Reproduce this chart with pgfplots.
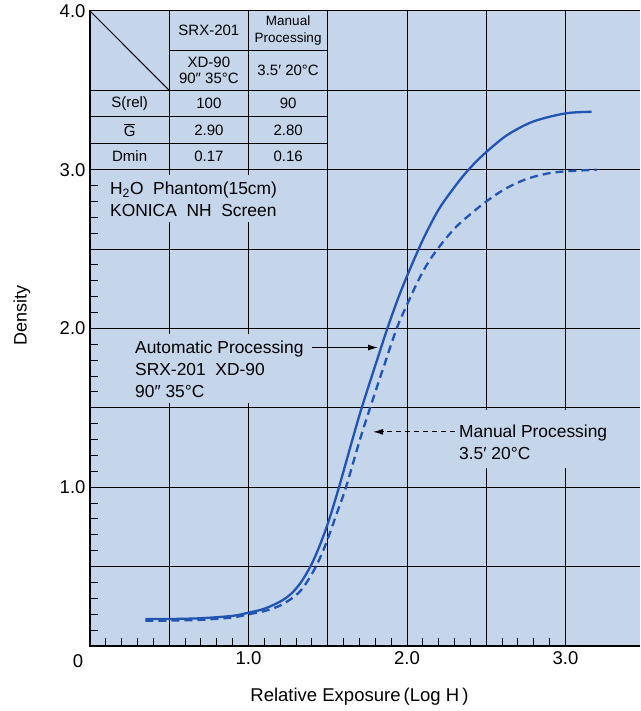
\documentclass[border=0pt]{standalone}
\usepackage{fontspec}
\setmainfont{Liberation Sans}
\usepackage{pgfplots}
\pgfplotsset{compat=1.18}
\usetikzlibrary{arrows.meta}
\definecolor{bgblue}{RGB}{197,213,234}
\definecolor{curveblue}{RGB}{34,84,180}
\newcommand{\ann}{\fontsize{17.4}{22}\selectfont}
\newcommand{\tab}{\fontsize{15}{16}\selectfont}
\begin{document}
\begin{tikzpicture}
\begin{axis}[
  scale only axis, width=550pt, height=635pt,
  xmin=0, xmax=3.47, ymin=0, ymax=4,
  axis background/.style={fill=bgblue},
  axis line style={draw=none},
  xtick={0,0.5,1,1.5,2,2.5,3}, xticklabels={,,1.0,,2.0,,3.0},
  ytick={0,0.5,1,1.5,2,2.5,3,3.5,4}, yticklabels={,,1.0,,2.0,,3.0,,4.0},
  minor x tick num=4, minor y tick num=4,
  grid=major, major grid style={black, line width=1pt},
  major tick length=0pt, minor tick length=8pt,
  minor tick style={black, line width=1pt},
  tick pos=left,
  tick label style={font=\fontsize{18.5}{21}\selectfont},
  xticklabel style={yshift=-2pt},
  yticklabel style={xshift=-1pt},
  clip=false,
]
\coordinate (O) at (axis cs:0,0);
\coordinate (TR) at (axis cs:3.47,4);
% text boxes covering grid
\fill[bgblue] (axis cs:0.10,2.673) rectangle (axis cs:1.22,2.97);
\fill[bgblue] (axis cs:0.20,1.532) rectangle (axis cs:1.38,1.967);
\fill[bgblue] (axis cs:2.30,1.122) rectangle (axis cs:3.47,1.488);

% curves
\addplot[curveblue, line width=2.3pt, smooth, tension=0.55] coordinates {
(0.35,0.17) (0.5,0.17) (0.7,0.175) (0.9,0.19) (1.0,0.21) (1.1,0.235) (1.2,0.28)
(1.27,0.33) (1.33,0.40) (1.39,0.50) (1.44,0.61) (1.5,0.77) (1.565,0.98) (1.65,1.28)
(1.714,1.5) (1.83,1.86) (1.876,2.0) (1.94,2.18) (2.0,2.33) (2.06,2.47) (2.12,2.60)
(2.2,2.75) (2.28,2.865) (2.366,2.975) (2.45,3.065) (2.55,3.155) (2.65,3.23) (2.8,3.305)
(3.0,3.355) (3.165,3.365)};
\addplot[curveblue, line width=2.3pt, smooth, tension=0.55, dash pattern=on 8pt off 5pt] coordinates {
(0.35,0.16) (0.5,0.16) (0.7,0.165) (0.9,0.18) (1.0,0.20) (1.1,0.22) (1.2,0.255)
(1.3,0.32) (1.36,0.39) (1.42,0.49) (1.46,0.575) (1.5,0.675) (1.555,0.83) (1.615,1.0)
(1.70,1.29) (1.767,1.5) (1.85,1.75) (1.935,2.0) (2.0,2.15) (2.07,2.30) (2.13,2.41)
(2.2,2.51) (2.3,2.63) (2.4,2.72) (2.5,2.80) (2.62,2.88) (2.75,2.94) (2.88,2.975)
(3.0,2.99) (3.197,3.0)};

% table
\fill[bgblue] (axis cs:0,3) rectangle (axis cs:1.5,4);
\draw[line width=1pt] (axis cs:0,3) rectangle (axis cs:1.5,4);
\draw[line width=1pt] (axis cs:0.5,3)--(axis cs:0.5,4);
\draw[line width=1pt] (axis cs:1,3)--(axis cs:1,4);
\draw[line width=1pt] (axis cs:0.5,3.75)--(axis cs:1.5,3.75);
\draw[line width=1pt] (axis cs:0,3.5)--(axis cs:1.5,3.5);
\draw[line width=1pt] (axis cs:0,3.3333)--(axis cs:1.5,3.3333);
\draw[line width=1pt] (axis cs:0,3.1667)--(axis cs:1.5,3.1667);
\draw[line width=1pt] (axis cs:0,4)--(axis cs:0.5,3.5);
\node[font=\tab] at (axis cs:0.75,3.875) {SRX-201};
\node[font=\fontsize{13.5}{17}\selectfont, align=center, inner sep=0pt] at (axis cs:1.25,3.875) {Manual\\Processing};
\node[font=\tab, align=center, inner sep=0pt] at (axis cs:0.75,3.625) {XD-90\\90″ 35°C};
\node[font=\tab] at (axis cs:1.25,3.625) {3.5′ 20°C};
\node[font=\tab] at (axis cs:0.25,3.4167) {S(rel)};
\node[font=\tab] at (axis cs:0.75,3.4167) {100};
\node[font=\tab] at (axis cs:1.25,3.4167) {90};
\node[font=\tab] at (axis cs:0.25,3.25) {$\overline{\mbox{G}}$};
\node[font=\tab] at (axis cs:0.75,3.25) {2.90};
\node[font=\tab] at (axis cs:1.25,3.25) {2.80};
\node[font=\tab] at (axis cs:0.25,3.0833) {Dmin};
\node[font=\tab] at (axis cs:0.75,3.0833) {0.17};
\node[font=\tab] at (axis cs:1.25,3.0833) {0.16};

% annotations
\node[font=\ann, anchor=base west, inner sep=0pt] at (axis cs:0.126,2.844) {H\textsubscript{2}O\ \ Phantom(15cm)};
\node[font=\ann, anchor=base west, inner sep=0pt] at (axis cs:0.126,2.707) {KONICA\ \ NH\ \ Screen};

\node[font=\ann, anchor=base west, inner sep=0pt] at (axis cs:0.284,1.841) {Automatic Processing};
\node[font=\ann, anchor=base west, inner sep=0pt] at (axis cs:0.284,1.703) {SRX-201\ \ XD-90};
\node[font=\ann, anchor=base west, inner sep=0pt] at (axis cs:0.284,1.564) {90″ 35°C};
\draw[line width=1.1pt, -{Latex[length=10pt,width=6pt]}] (axis cs:1.40,1.88) -- (axis cs:1.817,1.88);

\node[font=\ann, anchor=base west, inner sep=0pt] at (axis cs:2.328,1.316) {Manual Processing};
\node[font=\ann, anchor=base west, inner sep=0pt] at (axis cs:2.328,1.173) {3.5′ 20°C};
\draw[line width=1.1pt, dash pattern=on 5pt off 4pt, -{Latex[length=10pt,width=6pt]}] (axis cs:2.30,1.349) -- (axis cs:1.786,1.349);

% frame edges
\draw[line width=1.4pt] (axis cs:0,4) -- (axis cs:0,0) -- (axis cs:3.47,0);

% labels
\node[font=\fontsize{18.5}{21}\selectfont] at ([xshift=-12pt,yshift=-15pt]axis cs:0,0) {0};
\node[font=\fontsize{18.5}{21}\selectfont] at ([yshift=-51pt]axis cs:1.70,0) {Relative Exposure\,(Log\ H\,)};
\node[font=\fontsize{18}{21}\selectfont, rotate=90] at ([xshift=-68pt]axis cs:0,2.08) {Density};
\end{axis}
\pgfresetboundingbox
\path[use as bounding box] ([xshift=-90pt,yshift=-65pt]O) rectangle ([yshift=11pt]TR);
\end{tikzpicture}
\end{document}
